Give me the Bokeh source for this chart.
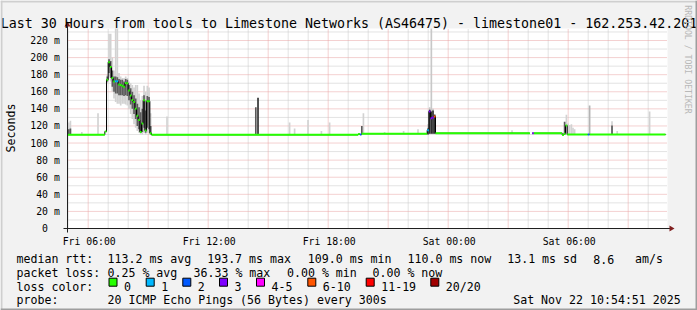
import math
from bokeh.plotting import figure
from bokeh.models import Label, BoxAnnotation, Range1d
from bokeh.core.properties import value
from bokeh.embed import file_html
from bokeh.resources import INLINE

# ---------------- data ----------------
# time axis: hours since Fri 00:00
T_START = 4.966            # left edge of the graph (Fri 04:58)
T_END = 34.966             # right edge (Sat 10:58)
STEP_H = 1 / 12            # 300 s step
Y_TOP = 234.0              # ms at top of the graph

x_ticks = [6, 12, 18, 24, 30]
x_tick_labels = ["Fri 06:00", "Fri 12:00", "Fri 18:00", "Sat 00:00", "Sat 06:00"]
y_ticks = [0, 20, 40, 60, 80, 100, 120, 140, 160, 180, 200, 220]
y_tick_labels = ["0\u00a0\u00a0", "20 m", "40 m", "60 m", "80 m", "100 m", "120 m",
                 "140 m", "160 m", "180 m", "200 m", "220 m"]
grid_hours = list(range(5, 35))
grid_ms = [10, 20, 30, 40, 50, 60, 70, 80, 90, 100, 110, 120, 130, 140, 150, 160,
           170, 180, 190, 200, 210, 220, 230]

loss_names = ["0", "1", "2", "3", "4-5", "6-10", "11-19", "20/20"]
loss_colors = ["#26ff00", "#00b8ff", "#0059ff", "#7e00ff", "#ff00ff", "#ff5500", "#ff0000", "#a10000"]

# median rtt (ms) as runs: start hour, end hour, value, loss bucket
seg_start = [4.966, 6.833, 9.167, 19.500, 19.583, 19.667, 23.367, 28.200, 28.283, 29.700, 29.783, 29.867, 29.950, 30.983, 31.067]
seg_end   = [6.833, 6.917, 19.500, 19.583, 19.667, 22.950, 28.083, 28.283, 29.700, 29.783, 29.867, 29.950, 30.983, 31.067, 34.866]
seg_med   = [109.8, 113.5, 109.7, 110.5, 110.0, 111.0, 111.5, 111.5, 111.5, 109.5, 111.0, 120.5, 110.0, 110.0, 110.0]
seg_loss  = [0, 0, 0, 0, 2, 0, 0, 3, 0, 0, 0, 0, 0, 2, 0]

# event 1 (Fri ~07:00-09:10), one value per 5-minute step
ev1_start = 6.917
ev1_med = [174, 194.6, 189, 176, 172, 172.4, 172.4, 168.5, 168, 167, 166, 170.4, 170, 161.5,
           155.6, 150.5, 148, 140, 132, 127, 113, 123, 150, 114.7, 149, 149, 111.5]
ev1_loss = [0, 0, 0, 0, 0, 1, 1, 0, 0, 0, 0, 0, 0, 0, 0, 0, 0, 0, 0, 0, 0, 0, 0, 0, 0, 0, 0]
ev1_out_lo = [170, 178, 172, 160, 152, 148, 146, 146, 144, 146, 146, 145, 144, 140,
              134, 128, 122, 118, 114, 112, 110, 110, 112, 110, 112, 112, 110]
ev1_out_hi = [180, 228, 228, 200, 185, 234, 234, 182, 178, 176, 176, 178, 176, 172,
              170, 168, 165, 168, 168, 158, 150, 155, 167, 160, 167, 165, 135]
ev1_in_lo = [172, 182, 176, 166, 160, 158, 158, 156, 156, 156, 155, 156, 155, 150,
             145, 140, 134, 128, 120, 116, 112, 113, 118, 112, 118, 116, 110]
ev1_in_hi = [178, 198, 196, 185, 178, 178, 177, 175, 174, 174, 172, 175, 174, 168,
             164, 160, 156, 152, 146, 142, 136, 140, 156, 138, 155, 154, 120]

# event 2 (around Sat 00:00)
ev2_start = 22.950
ev2_med = [115, 137, 129, 130, 131]
ev2_loss = [1, 3, 3, 3, 5]
ev2_out_lo = [110, 111, 111, 111, 111]
ev2_out_hi = [122, 142, 234, 140, 134]
ev2_in_lo = [110, 111, 111, 111, 111]
ev2_in_hi = [117, 139, 137, 138, 133]

# isolated smoke spikes: left edge hour, low ms, high ms
light_t  = [4.99, 5.07, 5.64, 6.45, 9.90, 16.03, 16.28, 16.95, 17.62, 18.03, 19.72, 20.78, 21.73,
            22.45, 27.15, 29.87, 29.95, 30.03, 30.12, 30.20, 30.28, 32.15, 32.41, 34.03]
light_lo = [110, 110, 110, 110, 110, 110, 110, 110, 110, 110, 111, 111, 111,
            111, 111.5, 110, 110, 110, 110, 110, 110, 110, 110, 110]
light_hi = [124, 126, 113, 135, 131, 124, 117, 127, 114, 124, 135, 113, 114,
            116, 115, 133, 123, 121, 122, 118, 116, 125.6, 114, 137]
mid_t  = [31.03]
mid_lo = [110]
mid_hi = [144]
dark_t  = [4.99, 5.07, 14.34, 19.64, 29.78, 32.15]
dark_lo = [110, 110, 110, 111, 110, 110]
dark_hi = [116, 117, 142, 120, 125, 120.5]
black_t  = [14.45]
black_lo = [110]
black_hi = [153]

legend_stats = [
    [(16, "median rtt:"), (107, "113.2 ms avg"), (206.7, "193.7 ms max"), (307.3, "109.0 ms min"),
     (407, "110.0 ms now"), (506.7, "13.1 ms sd"), (592.7, "8.6"), (634.5, "am/s")],
    [(16, "packet loss:"), (107, "0.25 % avg"), (193, "36.33 % max"), (286.5, "0.00 % min"),
     (372, "0.00 % now")],
    [(16, "loss color:")],
    [(16, "probe:"), (107, "20 ICMP Echo Pings (56 Bytes) every 300s"), (512.7, "Sat Nov 22 10:54:51 2025")],
]
title_text = "Last 30 Hours from tools to Limestone Networks (AS46475) - limestone01 - 162.253.42.201"

# ---------------- layout (pixels) ----------------
W, H = 697, 310
CANVAS_L, CANVAS_B = 67, 228          # pixel position of (T_START, 0 ms)
PX_PER_H = 20.0
PX_PER_MS = 188.0 / 220.0


def px2x(px):
    return T_START + (px - CANVAS_L) / PX_PER_H


def py2y(py):
    return (CANVAS_B - py) / PX_PER_MS


MONO = "DejaVu Sans Mono"
BG = "#f2f2f2"
LEG_SIZE = "11.6px"

p = figure(width=W, height=H, output_backend="svg", toolbar_location=None,
           x_range=Range1d(px2x(0), px2x(W)), y_range=Range1d(py2y(H), py2y(0)),
           x_axis_location=None, y_axis_location=None, min_border=0)
p.background_fill_color = BG
p.border_fill_color = BG
p.outline_line_color = None
p.xgrid.grid_line_color = None
p.ygrid.grid_line_color = None

# canvas
p.quad(left=[T_START], right=[T_END], bottom=[0], top=[Y_TOP], color="white", line_color=None)

# grid
minor_h = [h for h in grid_hours if h % 3 != 0]
major_h = [h for h in grid_hours if h % 3 == 0]
minor_ms = [m for m in grid_ms if m % 20 != 0]
major_ms = [m for m in grid_ms if m % 20 == 0]
GRID_C, MGRID_C = "#c6c6c6", "#e8a2a2"
p.segment(x0=minor_h, x1=minor_h, y0=[0] * len(minor_h), y1=[Y_TOP] * len(minor_h),
          line_color=GRID_C, line_width=1, line_dash="1 1")
p.segment(x0=[T_START] * len(minor_ms), x1=[T_END] * len(minor_ms), y0=minor_ms, y1=minor_ms,
          line_color=GRID_C, line_width=1, line_dash="1 1")
p.segment(x0=major_h, x1=major_h, y0=[0] * len(major_h), y1=[Y_TOP] * len(major_h),
          line_color=MGRID_C, line_width=1, line_dash="1 1")
p.segment(x0=[T_START] * len(major_ms), x1=[T_END] * len(major_ms), y0=major_ms, y1=major_ms,
          line_color=MGRID_C, line_width=1, line_dash="1 1")


# smoke
def steps(start, n):
    return [start + i * STEP_H for i in range(n)]


ev1_t = steps(ev1_start, len(ev1_med))
ev2_t = steps(ev2_start, len(ev2_med))

LIGHT, MID, DARK, BLACK = "#d2d2d2", "#b4b4b4", "#5a5a5a", "#303030"


def bars(ts, lo, hi, color):
    p.quad(left=ts, right=[t + STEP_H for t in ts], bottom=lo, top=hi, color=color, line_color=None)


bars(ev1_t, ev1_out_lo, ev1_out_hi, LIGHT)
bars(ev1_t, ev1_in_lo, ev1_in_hi, "#5c5c5c")
bars(ev2_t, ev2_out_lo, ev2_out_hi, "#c8c8c8")
bars(ev2_t, ev2_in_lo, ev2_in_hi, BLACK)
bars(light_t, light_lo, light_hi, LIGHT)
bars(mid_t, mid_lo, mid_hi, MID)
bars(dark_t, dark_lo, dark_hi, DARK)
bars(black_t, black_lo, black_hi, BLACK)

# median line
runs = [(s, e, m, l) for s, e, m, l in zip(seg_start, seg_end, seg_med, seg_loss)]
runs += [(t, t + STEP_H, m, l) for t, m, l in zip(ev1_t, ev1_med, ev1_loss)]
runs += [(t, t + STEP_H, m, l) for t, m, l in zip(ev2_t, ev2_med, ev2_loss)]
runs.sort()
lx, ly = [], []
prev_end = None
for s, e, m, l in runs:
    if prev_end is not None and abs(s - prev_end) > 1e-3:
        lx.append(math.nan)
        ly.append(math.nan)
    lx += [s, e]
    ly += [m, m]
    prev_end = e
p.line(lx, ly, line_color="black", line_width=1)
p.segment(x0=[r[0] for r in runs], x1=[r[1] for r in runs],
          y0=[r[2] for r in runs], y1=[r[2] for r in runs],
          line_color=[loss_colors[r[3]] for r in runs], line_width=2)

# axes lines & arrows
AXIS_C, ARROW_C = "#1f1f1f", "#801f1f"
p.segment(x0=[T_START - 4 / PX_PER_H], x1=[T_END + 4 / PX_PER_H], y0=[0], y1=[0],
          line_color=AXIS_C, line_width=1)
p.segment(x0=[T_START], x1=[T_START], y0=[-4 / PX_PER_MS], y1=[Y_TOP + 4 / PX_PER_MS],
          line_color=AXIS_C, line_width=1)
p.patch([T_END + 2 / PX_PER_H, T_END + 2 / PX_PER_H, T_END + 7 / PX_PER_H],
        [-3 / PX_PER_MS, 3 / PX_PER_MS, 0], color=ARROW_C, line_color=None)
p.patch([T_START - 3 / PX_PER_H, T_START + 3 / PX_PER_H, T_START],
        [Y_TOP + 2 / PX_PER_MS, Y_TOP + 2 / PX_PER_MS, Y_TOP + 7 / PX_PER_MS], color=ARROW_C, line_color=None)

# tick labels, placed through the plot scales
p.text(x=x_ticks, y=[py2y(241)] * len(x_ticks), text=x_tick_labels, x_offset=1,
       text_font=value(MONO), text_font_size=value("9.8px"), text_align="center",
       text_baseline="alphabetic", text_color="black")
p.text(x=[px2x(59.3)] * len(y_ticks), y=y_ticks, text=y_tick_labels,
       text_font=value(MONO), text_font_size=value("9.8px"), text_align="right",
       text_baseline="middle", text_color="black")


def label(px, py, text, size=LEG_SIZE, align="left", baseline="alphabetic", angle=0.0, color="black"):
    p.add_layout(Label(x=px2x(px), y=py2y(py), text=text, text_font=MONO, text_font_size=size,
                       text_align=align, text_baseline=baseline, angle=angle, text_color=color))


label(348.5, 23, title_text, size="13.3px", align="center")
label(10, 127.5, "Seconds", align="center", baseline="middle", angle=math.pi / 2)
label(687.5, 59, "RRDTOOL / TOBI OETIKER", size="8.2px", align="center", baseline="middle",
      angle=-math.pi / 2, color="#b8b8b8")

rows = [258.5, 272.2, 286.0, 299.8]
for py, items in zip(rows, legend_stats):
    for px, txt in items:
        label(px, py, txt)

box_x = [108.5, 145.7, 182.3, 219.0, 256.0, 307.3, 365.7, 430.3]
for bx, name, col in zip(box_x, loss_names, loss_colors):
    p.add_layout(BoxAnnotation(left=px2x(bx), right=px2x(bx + 8), top=py2y(277.7), bottom=py2y(285.7),
                               fill_color=col, fill_alpha=1.0, line_color="black", line_width=1,
                               line_alpha=1.0))
    label(bx + 15.0, rows[2], name)

# image frame shading
for l, r, t, b, c in [(0, W, 0, 2, "#cfcfcf"), (0, 2, 0, H, "#cfcfcf"),
                      (0, W, H - 2, H, "#9e9e9e"), (W - 2, W, 0, H, "#9e9e9e")]:
    p.add_layout(BoxAnnotation(left=px2x(l), right=px2x(r), top=py2y(t), bottom=py2y(b),
                               fill_color=c, fill_alpha=1.0, line_color=None))

open("out.html", "w").write(file_html(p, INLINE))
